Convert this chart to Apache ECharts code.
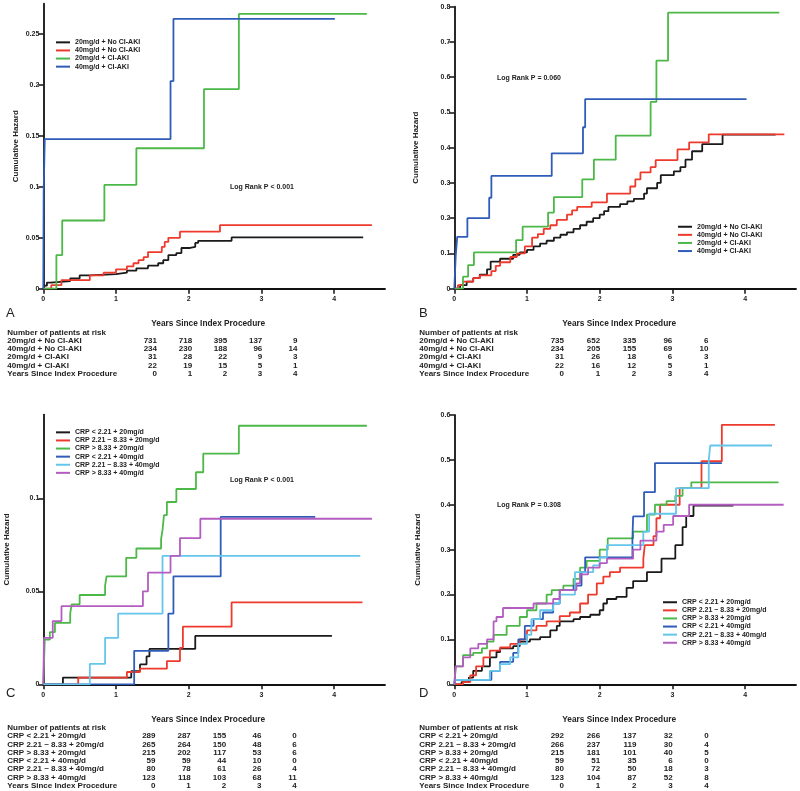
<!DOCTYPE html>
<html><head><meta charset="utf-8">
<script src="https://cdn.jsdelivr.net/npm/echarts@6/dist/echarts.min.js"></script>
<style>html,body{margin:0;padding:0;background:#fff}#c{width:800px;height:791px}</style>
</head><body><div id="c"></div>
<script>
// ---------- categories ----------
const groupsAB = ['20mg/d + No CI-AKI', '40mg/d + No CI-AKI', '20mg/d + CI-AKI', '40mg/d + CI-AKI'];
const groupsCD = ['CRP < 2.21 + 20mg/d', 'CRP 2.21 ~ 8.33 + 20mg/d', 'CRP > 8.33 + 20mg/d', 'CRP < 2.21 + 40mg/d', 'CRP 2.21 ~ 8.33 + 40mg/d', 'CRP > 8.33 + 40mg/d'];
const yearTicks = [0, 1, 2, 3, 4];
const yTicksA = [0, 0.05, 0.1, 0.15, 0.2, 0.25];
const yTicksB = [0, 0.1, 0.2, 0.3, 0.4, 0.5, 0.6, 0.7, 0.8];
const yTicksC = [0, 0.05, 0.1];
const yTicksD = [0, 0.1, 0.2, 0.3, 0.4, 0.5, 0.6];
const pTextA = 'Log Rank P < 0.001';
const pTextB = 'Log Rank P = 0.060';
const pTextC = 'Log Rank P < 0.001';
const pTextD = 'Log Rank P = 0.308';

// ---------- panel A: [years, cumulative hazard] ----------
const aBlack = [[0,0],[0.02,0.003],[0.05,0.006],[0.1,0.0075],[0.37,0.010],[0.5,0.013],[0.64,0.0144],[1.0,0.0157],[1.15,0.0177],[1.28,0.020],[1.44,0.0226],[1.58,0.025],[1.65,0.028],[1.72,0.033],[1.83,0.035],[1.9,0.04],[2.02,0.041],[2.09,0.045],[2.13,0.047],[2.59,0.0504],[4.40,0.0504]];
const aRed = [[0,0],[0.11,0.0036],[0.25,0.0085],[0.64,0.013],[0.83,0.0157],[1.0,0.019],[1.15,0.022],[1.24,0.025],[1.31,0.028],[1.38,0.031],[1.44,0.036],[1.63,0.041],[1.67,0.046],[1.72,0.050],[1.88,0.056],[2.43,0.0625],[4.52,0.0625]];
const aGreen = [[0,0],[0.18,0.033],[0.26,0.067],[0.84,0.102],[1.28,0.138],[2.21,0.196],[2.69,0.27],[4.45,0.27]];
const aBlue = [[0,0],[0.005,0.095],[0.02,0.147],[1.75,0.204],[1.79,0.265],[4.01,0.265]];

// ---------- panel B ----------
const bBlack = [[0,0],[0.08,0.01],[0.17,0.02],[0.26,0.03],[0.35,0.04],[0.45,0.055],[0.5,0.077],[0.63,0.085],[0.81,0.096],[0.9,0.103],[1.0,0.11],[1.09,0.12],[1.18,0.128],[1.27,0.136],[1.37,0.145],[1.46,0.153],[1.55,0.16],[1.64,0.17],[1.73,0.18],[1.82,0.19],[1.91,0.2],[2.0,0.21],[2.06,0.22],[2.12,0.232],[2.28,0.24],[2.38,0.248],[2.47,0.255],[2.61,0.27],[2.65,0.285],[2.79,0.3],[2.84,0.322],[3.02,0.333],[3.11,0.345],[3.18,0.366],[3.27,0.39],[3.41,0.41],[3.69,0.437],[4.42,0.437]];
const bRed = [[0,0],[0.05,0.01],[0.12,0.02],[0.26,0.03],[0.35,0.038],[0.51,0.05],[0.57,0.065],[0.63,0.075],[0.77,0.09],[0.86,0.1],[0.97,0.12],[1.07,0.145],[1.15,0.155],[1.23,0.17],[1.32,0.18],[1.41,0.195],[1.55,0.21],[1.62,0.222],[1.69,0.232],[1.89,0.245],[2.1,0.27],[2.42,0.29],[2.49,0.31],[2.56,0.33],[2.7,0.345],[2.77,0.365],[3.07,0.395],[3.23,0.415],[3.5,0.438],[4.54,0.438]];
const bGreen = [[0,0],[0.12,0.034],[0.19,0.067],[0.27,0.103],[0.85,0.138],[0.94,0.176],[1.29,0.216],[1.37,0.26],[1.76,0.31],[1.92,0.366],[2.22,0.434],[2.7,0.53],[2.78,0.647],[2.94,0.783],[4.47,0.783]];
const bBlue = [[0,0],[0.02,0.095],[0.04,0.147],[0.18,0.2],[0.48,0.258],[0.51,0.32],[1.34,0.384],[1.77,0.458],[1.8,0.538],[4.02,0.538]];

// ---------- panel C ----------
const cBlack = [[0,0],[0.27,0.0036],[1.21,0.0071],[1.33,0.0107],[1.42,0.015],[1.46,0.019],[2.09,0.026],[3.97,0.026]];
const cRed = [[0,0],[0.48,0.0036],[1.15,0.0066],[1.33,0.0084],[1.70,0.0125],[1.88,0.0196],[1.92,0.031],[2.59,0.044],[4.39,0.044]];
const cGreen = [[0,0],[0.02,0.024],[0.09,0.028],[0.16,0.033],[0.37,0.038],[0.39,0.043],[0.5,0.048],[0.85,0.053],[0.87,0.058],[1.14,0.068],[1.28,0.073],[1.62,0.078],[1.64,0.083],[1.66,0.091],[1.7,0.098],[1.83,0.105],[2.1,0.114],[2.2,0.124],[2.69,0.139],[4.45,0.139]];
const cBlue = [[0,0],[1.25,0.018],[1.72,0.038],[1.79,0.058],[2.44,0.09],[3.74,0.09]];
const cCyan = [[0,0],[0.64,0.011],[0.85,0.025],[1.03,0.038],[1.64,0.069],[4.36,0.069]];
const cMagenta = [[0,0],[0.01,0.025],[0.13,0.034],[0.25,0.042],[1.37,0.05],[1.44,0.06],[1.75,0.069],[1.88,0.0786],[2.16,0.089],[4.52,0.089]];

// ---------- panel D ----------
const dBlack = [[0,0],[0.1,0.005],[0.2,0.015],[0.26,0.03],[0.38,0.04],[0.49,0.06],[0.58,0.072],[0.63,0.08],[0.81,0.085],[0.9,0.095],[1.04,0.1],[1.18,0.105],[1.32,0.12],[1.41,0.13],[1.45,0.14],[1.64,0.145],[1.73,0.15],[1.87,0.155],[2.0,0.165],[2.05,0.18],[2.1,0.19],[2.23,0.195],[2.37,0.215],[2.46,0.23],[2.65,0.25],[2.85,0.28],[3.04,0.31],[3.14,0.35],[3.19,0.375],[3.29,0.398],[3.84,0.398]];
const dRed = [[0,0],[0.12,0.005],[0.22,0.02],[0.3,0.04],[0.4,0.06],[0.49,0.075],[0.63,0.082],[0.77,0.09],[0.9,0.1],[1.0,0.12],[1.13,0.13],[1.27,0.14],[1.45,0.152],[1.59,0.16],[1.73,0.18],[1.84,0.2],[1.96,0.225],[2.05,0.24],[2.14,0.25],[2.28,0.26],[2.6,0.28],[2.62,0.31],[2.74,0.33],[2.78,0.37],[2.83,0.4],[3.1,0.437],[3.4,0.497],[3.68,0.578],[4.41,0.578]];
const dGreen = [[0,0],[0.02,0.04],[0.12,0.065],[0.26,0.07],[0.38,0.08],[0.45,0.095],[0.54,0.11],[0.72,0.13],[0.9,0.15],[1.0,0.165],[1.13,0.18],[1.27,0.2],[1.34,0.21],[1.5,0.22],[1.64,0.235],[1.73,0.26],[1.82,0.275],[2.0,0.3],[2.11,0.325],[2.46,0.34],[2.65,0.378],[2.76,0.4],[2.92,0.408],[3.04,0.42],[3.14,0.437],[3.26,0.45],[4.46,0.45]];
const dBlue = [[0,0],[0.01,0.01],[0.51,0.03],[0.63,0.05],[0.81,0.07],[0.88,0.1],[0.97,0.13],[1.09,0.145],[1.22,0.16],[1.36,0.18],[1.45,0.21],[1.64,0.22],[1.75,0.25],[1.8,0.283],[2.45,0.325],[2.46,0.374],[2.61,0.428],[2.76,0.493],[3.68,0.493]];
const dCyan = [[0,0],[0.01,0.01],[0.49,0.03],[0.63,0.045],[0.77,0.06],[0.88,0.09],[1.0,0.11],[1.06,0.145],[1.18,0.165],[1.36,0.18],[1.45,0.2],[1.66,0.25],[1.91,0.265],[2.0,0.283],[2.1,0.31],[2.6,0.34],[2.68,0.38],[3.05,0.437],[3.5,0.5],[3.52,0.532],[4.37,0.532]];
const dMagenta = [[0,0],[0.02,0.04],[0.12,0.06],[0.22,0.08],[0.33,0.09],[0.45,0.1],[0.54,0.14],[0.58,0.15],[0.67,0.17],[1.09,0.18],[1.36,0.19],[1.45,0.21],[1.68,0.225],[1.73,0.245],[1.84,0.26],[2.0,0.27],[2.1,0.28],[2.46,0.3],[2.56,0.32],[2.78,0.34],[2.88,0.355],[3.01,0.375],[3.23,0.4],[4.53,0.4]];

// ---------- numbers at risk ----------
const riskA = [[731,718,395,137,9],[234,230,188,96,14],[31,28,22,9,3],[22,19,15,5,1]];
const riskB = [[735,652,335,96,6],[234,205,155,69,10],[31,26,18,6,3],[22,16,12,5,1]];
const riskC = [[289,287,155,46,0],[265,264,150,48,6],[215,202,117,53,6],[59,59,44,10,0],[80,78,61,26,4],[123,118,103,68,11]];
const riskD = [[292,266,137,32,0],[266,237,119,30,4],[215,181,101,40,5],[59,51,35,6,0],[80,72,50,18,3],[123,104,87,52,8]];

// ---------- styling / layout ----------
const FONT = '"Liberation Sans", Arial, sans-serif';
const colAB = ['#1a1a1a', '#ee3a2c', '#4cb848', '#2f5cb8'];
const colCD = ['#1a1a1a', '#ee3a2c', '#4cb848', '#2f5cb8', '#63c6ea', '#b35dc0'];

const panels = [
  {left: 43.3, top: 3.7,  width: 341.7, height: 285,   yMax: 0.28,  yTicks: yTicksA, names: groupsAB, cols: colAB, data: [aBlack, aRed, aGreen, aBlue], nameGap: 24},
  {left: 454.3, top: 6.7, width: 341.7, height: 282,   yMax: 0.8,   yTicks: yTicksB, names: groupsAB, cols: colAB, data: [bBlack, bRed, bGreen, bBlue], nameGap: 35},
  {left: 43.3, top: 414.6, width: 341.7, height: 269.7, yMax: 0.145, yTicks: yTicksC, names: groupsCD, cols: colCD, data: [cBlack, cRed, cGreen, cBlue, cCyan, cMagenta], nameGap: 33},
  {left: 454.3, top: 415, width: 341.7, height: 269.3,  yMax: 0.6,   yTicks: yTicksD, names: groupsCD, cols: colCD, data: [dBlack, dRed, dGreen, dBlue, dCyan, dMagenta], nameGap: 33}
];

const grid = [], xAxis = [], yAxis = [], series = [];
panels.forEach((p, i) => {
  grid.push({left: p.left, top: p.top, width: p.width, height: p.height, outerBoundsMode: 'none', containLabel: false});
  xAxis.push({
    type: 'value', gridIndex: i, min: 0, max: 4.7,
    name: 'Years Since Index Procedure', nameLocation: 'middle', nameGap: 31,
    nameTextStyle: {fontFamily: FONT, fontWeight: 'bold', fontSize: 8.3, color: '#222', padding: [0, 12, 0, 0]},
    axisLine: {show: true, onZero: false, lineStyle: {color: '#111', width: 1.8}},
    axisTick: {show: true, length: 5, lineStyle: {color: '#111', width: 1.5}, customValues: yearTicks},
    axisLabel: {fontFamily: FONT, fontWeight: 'bold', fontSize: 7, color: '#222', margin: 7, customValues: yearTicks},
    splitLine: {show: false}
  });
  yAxis.push({
    type: 'value', gridIndex: i, min: 0, max: p.yMax,
    name: 'Cumulative Hazard', nameLocation: 'middle', nameRotate: 90, nameGap: p.nameGap,
    nameTextStyle: {fontFamily: FONT, fontWeight: 'bold', fontSize: 8, color: '#222'},
    axisLine: {show: true, onZero: false, lineStyle: {color: '#111', width: 1.8}},
    axisTick: {show: true, length: 5, lineStyle: {color: '#111', width: 1.5}, customValues: p.yTicks},
    axisLabel: {fontFamily: FONT, fontWeight: 'bold', fontSize: 7, color: '#222', margin: 4, customValues: p.yTicks},
    splitLine: {show: false}
  });
  p.data.forEach((d, k) => {
    series.push({
      type: 'line', name: p.names[k], data: d, step: 'end',
      xAxisIndex: i, yAxisIndex: i, showSymbol: false, symbol: 'none',
      lineStyle: {width: 1.8, color: p.cols[k]}, itemStyle: {color: p.cols[k]},
      animation: false, clip: true
    });
  });
});

function legendAt(names, left, top) {
  return {
    data: names, left: left, top: top, orient: 'vertical', padding: 0,
    itemGap: 0, itemWidth: 14, itemHeight: 2, icon: 'rect', selectedMode: false,
    textStyle: {fontFamily: FONT, fontWeight: 'bold', fontSize: 7, lineHeight: 8.1, color: '#222'}
  };
}
const legend = [
  legendAt(groupsAB, 56, 38.3),
  legendAt(groupsAB, 678, 222.7),
  legendAt(groupsCD, 56, 428.3),
  legendAt(groupsCD, 663, 598.2)
];

// ---------- text elements ----------
const graphic = [];
function txt(x, y, s, opts) {
  graphic.push({type: 'text', x: x, y: y, silent: true, style: Object.assign({
    text: s, fontFamily: FONT, fontWeight: 'bold', fontSize: 8, fill: '#222',
    textAlign: 'left', textVerticalAlign: 'middle'
  }, opts || {})});
}
// panel letters
txt(6, 313, 'A', {fontWeight: 'normal', fontSize: 13});
txt(419, 313, 'B', {fontWeight: 'normal', fontSize: 13});
txt(6, 693, 'C', {fontWeight: 'normal', fontSize: 13});
txt(419, 693, 'D', {fontWeight: 'normal', fontSize: 13});
// log-rank
txt(230, 186.7, pTextA, {fontSize: 7});
txt(497, 77.7, pTextB, {fontSize: 7});
txt(230, 480, pTextC, {fontSize: 7});
txt(497, 505, pTextD, {fontSize: 7});

function riskTable(labels, risk, x0, yHead, step, colRight, colStep) {
  txt(x0, yHead, 'Number of patients at risk');
  labels.forEach((lab, r) => {
    const y = yHead + step * (r + 1);
    txt(x0, y, lab);
    risk[r].forEach((v, c) => txt(colRight + colStep * c, y, String(v), {textAlign: 'right'}));
  });
  const yLast = yHead + step * (labels.length + 1);
  txt(x0, yLast, 'Years Since Index Procedure');
  yearTicks.forEach((v, c) => txt(colRight + colStep * c, yLast, String(v), {textAlign: 'right'}));
}
riskTable(groupsAB, riskA, 7.3, 332.5, 8.2, 157, 35.1);
riskTable(groupsAB, riskB, 419.3, 332.5, 8.2, 564, 36.1);
riskTable(groupsCD, riskC, 7.3, 727.7, 8.3, 155.5, 35.3);
riskTable(groupsCD, riskD, 419.3, 727.7, 8.3, 564, 36.2);

const chart = echarts.init(document.getElementById('c'), null, {renderer: 'canvas'});
chart.setOption({
  animation: false,
  backgroundColor: '#ffffff',
  grid, xAxis, yAxis, series, legend, graphic
});
</script>
</body></html>
